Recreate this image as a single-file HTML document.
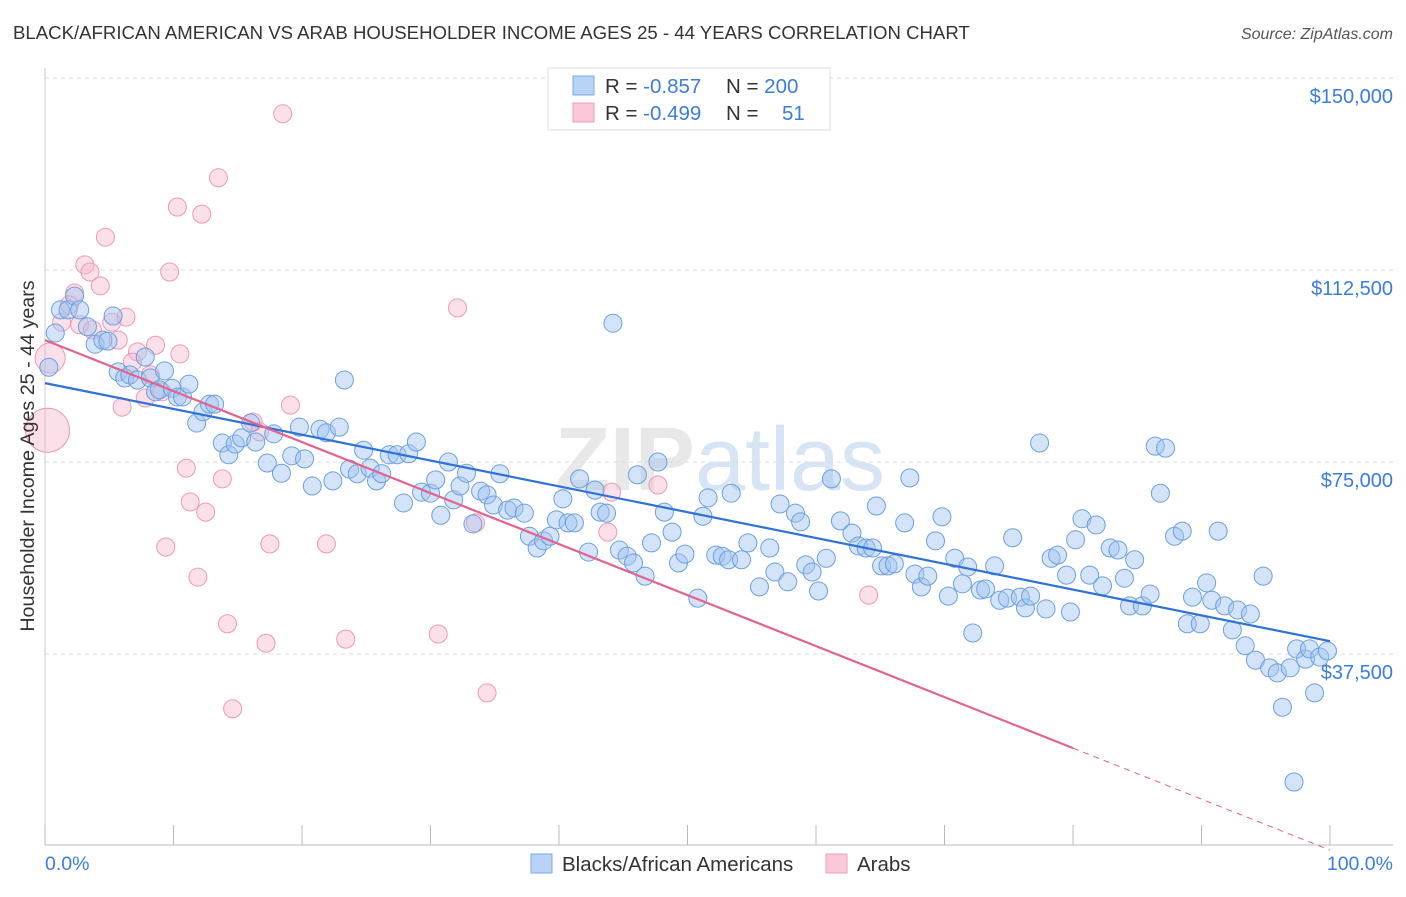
<!DOCTYPE html>
<html><head><meta charset="utf-8">
<style>
body{margin:0;background:#fff;font-family:"Liberation Sans",sans-serif;}
svg text{font-family:"Liberation Sans",sans-serif;}
</style></head>
<body>
<svg id="chart" width="1406" height="892" viewBox="0 0 1406 892" xmlns="http://www.w3.org/2000/svg">
<text x="13" y="39" font-size="18.6" fill="#333">BLACK/AFRICAN AMERICAN VS ARAB HOUSEHOLDER INCOME AGES 25 - 44 YEARS CORRELATION CHART</text>
<text x="1393" y="39" font-size="16" fill="#555" font-style="italic" text-anchor="end">Source: ZipAtlas.com</text>
<text x="720" y="490" font-size="90" fill="#e8e8e8" text-anchor="middle" font-family="Liberation Serif" font-weight="bold">ZIP<tspan fill="#d6e4f5" font-family="Liberation Sans" font-weight="normal">atlas</tspan></text>
<g id="grid"></g>
<g id="axes"></g>
<g id="pinkPts"></g>
<g id="bluePts"></g>
<g id="lines"></g>
<text transform="translate(34,456) rotate(-90)" font-size="19.7" fill="#333" text-anchor="middle">Householder Income Ages 25 - 44 years</text>
<text x="45" y="870" font-size="19.5" fill="#3b7dd8">0.0%</text>
<text x="1393" y="870" font-size="19.5" fill="#3b7dd8" text-anchor="end">100.0%</text>
<g>
<rect x="548" y="68" width="282" height="62" fill="#fff" stroke="#ddd"/>
<rect x="573" y="76" width="21" height="19" fill="#b8d3f5" stroke="#7aa9e6"/>
<rect x="573" y="103" width="21" height="19" fill="#fbc8d7" stroke="#eea0b8"/>
<text x="605" y="93" font-size="20.5" fill="#333">R = <tspan fill="#3b7dd8">-0.857</tspan><tspan x="726">N = </tspan><tspan fill="#3b7dd8">200</tspan></text>
<text x="605" y="120" font-size="20.5" fill="#333">R = <tspan fill="#3b7dd8">-0.499</tspan><tspan x="726">N = </tspan><tspan x="782" fill="#3b7dd8">51</tspan></text>
</g>
<g>
<rect x="531" y="854" width="21" height="19" fill="#b8d3f5" stroke="#7aa9e6"/>
<text x="562" y="871" font-size="20.5" fill="#333">Blacks/African Americans</text>
<rect x="826" y="854" width="21" height="19" fill="#fbc8d7" stroke="#eea0b8"/>
<text x="857" y="871" font-size="20.5" fill="#333">Arabs</text>
</g>
</svg>
<script>
const blueX=[0.3,0.8,1.2,1.8,2.3,2.7,3.3,3.9,4.5,4.9,5.3,5.7,6.2,6.6,7.2,7.8,8.2,8.6,8.9,9.3,9.9,10.3,10.7,11.2,11.8,12.3,12.8,13.2,13.8,14.3,14.8,15.3,16.0,16.4,17.3,17.8,18.4,19.2,19.8,20.2,20.8,21.4,21.9,22.4,22.9,23.3,23.7,24.3,24.8,25.3,25.8,26.2,26.8,27.4,27.9,28.3,28.9,29.3,30.0,30.4,30.8,31.4,31.8,32.3,32.8,33.3,33.9,34.4,34.9,35.4,36.0,36.5,37.3,37.7,38.3,38.8,39.3,39.8,40.3,40.7,41.2,41.6,42.3,42.8,43.2,43.7,44.2,44.7,45.3,45.8,46.1,46.7,47.2,47.7,48.2,48.8,49.3,49.8,50.8,51.2,51.6,52.2,52.7,53.2,53.4,54.2,54.7,55.6,56.4,56.8,57.2,57.8,58.4,58.8,59.2,59.7,60.2,60.8,61.2,61.9,62.8,63.3,63.9,64.4,64.7,65.1,65.6,66.1,66.9,67.3,67.7,68.2,68.7,69.3,69.8,70.3,70.8,71.4,71.8,72.2,72.8,73.2,73.9,74.3,74.9,75.3,75.9,76.3,76.7,77.4,77.9,78.3,78.8,79.5,79.8,80.2,80.7,81.3,81.8,82.3,82.9,83.5,84.0,84.4,84.8,85.4,86.0,86.4,86.8,87.2,87.9,88.5,88.9,89.3,89.9,90.4,90.8,91.3,91.8,92.4,92.8,93.4,93.8,94.2,94.8,95.3,95.9,96.3,96.9,97.4,98.1,98.4,98.8,99.2,99.8,97.2];
const blueY=[93.5,100.2,104.7,104.7,107.4,104.7,101.4,98.0,98.8,98.6,103.5,92.6,91.4,92.0,91.0,95.5,91.4,88.7,89.1,92.8,89.4,87.7,87.7,90.2,82.6,84.8,86.3,86.3,78.7,76.4,78.5,79.7,82.6,78.9,74.8,80.5,72.8,76.2,81.8,75.6,70.3,81.4,80.7,71.3,81.8,91.0,73.6,72.7,77.3,73.8,71.3,72.7,76.4,76.4,67.0,76.6,78.9,69.1,68.9,71.5,64.6,75.0,67.6,70.3,72.8,62.9,69.3,68.6,66.6,72.7,65.6,66.0,65.0,60.5,58.2,59.6,60.5,63.7,67.8,63.1,63.1,71.7,57.4,69.5,65.2,65.0,102.1,57.8,56.6,55.3,72.5,52.7,59.2,75.0,65.2,61.3,55.3,57.0,48.4,64.4,68.0,56.8,56.6,55.9,68.9,55.9,59.2,50.6,58.2,53.5,66.8,51.6,65.0,63.3,54.9,53.5,49.8,56.2,71.7,63.5,61.1,58.6,58.2,58.2,66.4,54.7,54.7,55.1,63.1,71.9,53.1,50.6,52.7,59.6,64.3,48.8,56.2,51.2,54.5,41.6,50.0,50.2,54.7,48.0,48.4,60.2,48.6,46.5,48.8,78.7,46.3,56.2,56.8,52.9,45.7,59.8,63.9,52.9,62.7,50.8,58.2,57.8,52.3,46.9,55.9,46.9,49.2,78.1,68.9,77.7,60.5,61.5,43.4,48.6,43.4,51.4,48.0,61.5,46.9,42.2,46.1,39.1,45.3,36.3,52.7,34.8,33.8,27.1,34.8,38.5,36.5,38.5,29.9,36.9,38.1,12.5];
const pinkX=[18.5,13.5,10.3,12.2,4.7,3.1,3.5,9.7,4.3,2.3,1.9,1.3,2.7,5.2,6.3,3.7,5.7,8.6,7.2,10.5,6.8,8.2,7.8,9.1,6.0,16.2,16.7,19.1,32.1,11.0,13.8,11.3,12.5,9.4,17.5,21.9,11.9,14.2,17.2,23.4,30.6,14.6,34.4,44.1,43.8,47.7,64.1,33.5,0.4,0.2];
const pinkY=[143.0,130.5,124.8,123.4,118.9,113.5,112.1,112.1,109.4,108.0,105.7,102.3,101.8,102.3,103.3,100.8,98.8,97.8,96.5,96.1,94.5,92.0,87.5,88.7,85.7,82.8,80.9,86.1,105.1,73.8,71.7,67.2,65.2,58.4,59.0,59.0,52.5,43.4,39.6,40.4,41.4,26.8,29.9,69.1,61.3,70.5,49.0,63.1,95.3,81.2];
const pinkR=[9,9,9,9,9,9,9,9,9,9,9,9,9,9,9,9,9,9,9,9,9,9,9,9,9,9,9,9,9,9,9,9,9,9,9,9,9,9,9,9,9,9,9,9,9,9,9,9,15,22];
const yTicks=[37.5,75,112.5,150];
const yTickLabels=["$37,500","$75,000","$112,500","$150,000"];
const xTicks=[0,10,20,30,40,50,60,70,80,90,100];
const blueFit=[90.4,-0.504];
const pinkFit=[98.8,-0.996];
const pinkSolidEnd=80;

const NS="http://www.w3.org/2000/svg";
const X=p=>45+p*12.85;
const Y=v=>846-v/0.1953;
function mk(tag,attrs,parent){const e=document.createElementNS(NS,tag);for(const k in attrs)e.setAttribute(k,attrs[k]);parent.appendChild(e);return e;}
const grid=document.getElementById('grid'),axes=document.getElementById('axes');
yTicks.forEach((t,i)=>{
  const l=mk('line',{x1:45,x2:1393,y1:Y(t),y2:Y(t),stroke:'#ddd','stroke-dasharray':'4,4'},grid);
  
  
  const tx=mk('text',{x:1393,y:Y(t)+25,'font-size':20,fill:'#3b7dd8','text-anchor':'end'},grid);
  tx.textContent=yTickLabels[i];
  
  
});
const xa=mk('line',{x1:45,x2:1393,y1:845,y2:845,stroke:'#bbb'},axes);


const ya=mk('line',{x1:45,x2:45,y1:68,y2:845,stroke:'#ccc'},axes);


xTicks.forEach(t=>{
  const l=mk('line',{x1:X(t),x2:X(t),y1:825,y2:845,stroke:'#bbb'},axes);
  
  
});
const pg=document.getElementById('pinkPts');
pinkX.forEach((x,i)=>{
  const c=mk('circle',{cx:X(x),cy:Y(pinkY[i]),r:pinkR[i],fill:'rgba(246,178,200,0.4)',stroke:'#eb9ab4','stroke-width':1},pg);
  
  
});
const bg=document.getElementById('bluePts');
blueX.forEach((x,i)=>{
  const c=mk('circle',{cx:X(x),cy:Y(blueY[i]),r:9,fill:'rgba(160,196,240,0.45)',stroke:'#6c9fe0','stroke-width':1},bg);
  
  
});
const lg=document.getElementById('lines');
const bl=mk('line',{x1:X(0),y1:Y(blueFit[0]),x2:X(100),y2:Y(blueFit[0]+blueFit[1]*100),stroke:'#2f72d6','stroke-width':2.2},lg);


const pl=mk('line',{x1:X(0),y1:Y(pinkFit[0]),x2:X(pinkSolidEnd),y2:Y(pinkFit[0]+pinkFit[1]*pinkSolidEnd),stroke:'#e2638e','stroke-width':2.2},lg);


const pd=mk('line',{x1:X(pinkSolidEnd),y1:Y(pinkFit[0]+pinkFit[1]*pinkSolidEnd),x2:X(100),y2:Y(pinkFit[0]+pinkFit[1]*100),stroke:'#e2638e','stroke-width':1,'stroke-dasharray':'6,5'},lg);


</script>
</body></html>
